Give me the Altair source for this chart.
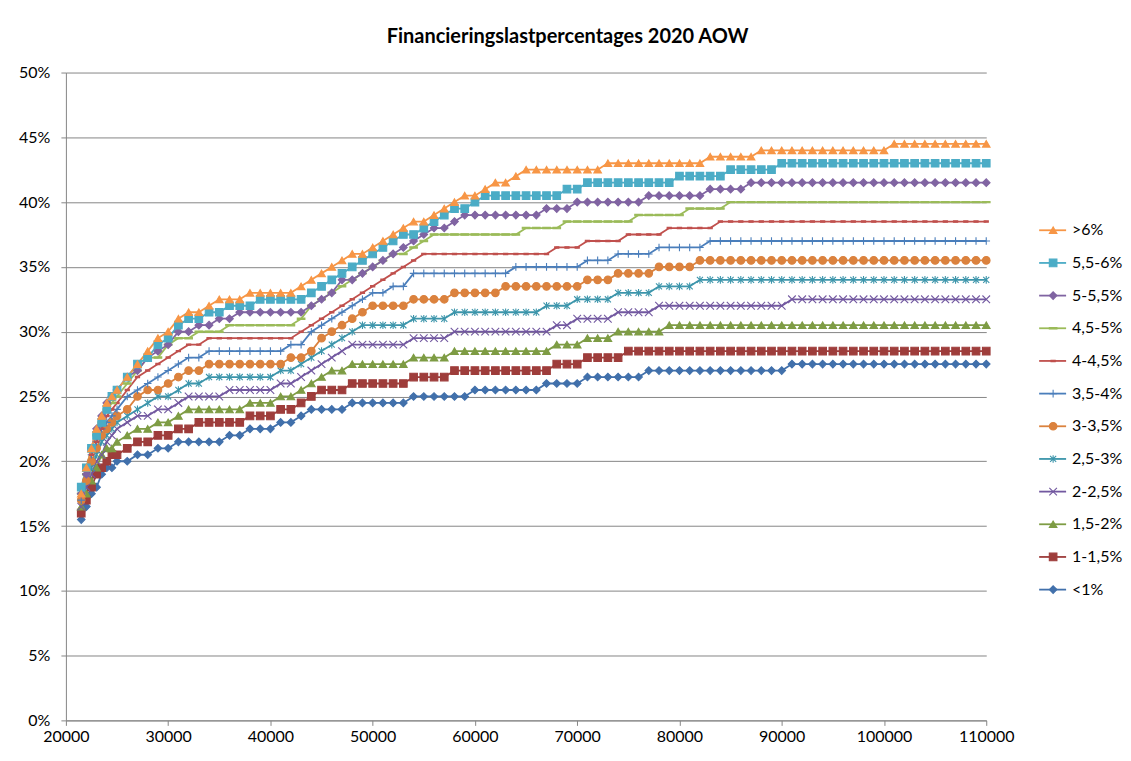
import altair as alt
import pandas as pd

# x positions (income)
incomes = [21500, 22000, 22500, 23000, 23500, 24000, 24500, 25000,
           26000, 27000, 28000, 29000, 30000, 31000, 32000, 33000, 34000, 35000,
           36000, 37000, 38000, 39000, 40000, 41000, 42000, 43000, 44000, 45000,
           46000, 47000, 48000, 49000, 50000, 51000, 52000, 53000, 54000, 55000,
           56000, 57000, 58000, 59000, 60000, 61000, 62000, 63000, 64000, 65000,
           66000, 67000, 68000, 69000, 70000, 71000, 72000, 73000, 74000, 75000,
           76000, 77000, 78000, 79000, 80000, 81000, 82000, 83000, 84000, 85000,
           86000, 87000, 88000, 89000, 90000, 91000, 92000, 93000, 94000, 95000,
           96000, 97000, 98000, 99000, 100000, 101000, 102000, 103000, 104000, 105000,
           106000, 107000, 108000, 109000, 110000]

s_lt1 = [15.5, 16.5, 17.5, 18, 19, 19.5, 19.5, 20,
         20, 20.5, 20.5, 21, 21, 21.5, 21.5, 21.5, 21.5, 21.5,
         22, 22, 22.5, 22.5, 22.5, 23, 23, 23.5, 24, 24,
         24, 24, 24.5, 24.5, 24.5, 24.5, 24.5, 24.5, 25, 25,
         25, 25, 25, 25, 25.5, 25.5, 25.5, 25.5, 25.5, 25.5,
         25.5, 26, 26, 26, 26, 26.5, 26.5, 26.5, 26.5, 26.5,
         26.5, 27, 27, 27, 27, 27, 27, 27, 27, 27,
         27, 27, 27, 27, 27, 27.5, 27.5, 27.5, 27.5, 27.5,
         27.5, 27.5, 27.5, 27.5, 27.5, 27.5, 27.5, 27.5, 27.5, 27.5,
         27.5, 27.5, 27.5, 27.5, 27.5]

s_1 = [16, 17, 18, 19, 19.5, 20, 20.5, 20.5,
       21, 21.5, 21.5, 22, 22, 22.5, 22.5, 23, 23, 23,
       23, 23, 23.5, 23.5, 23.5, 24, 24, 24.5, 25, 25.5,
       25.5, 25.5, 26, 26, 26, 26, 26, 26, 26.5, 26.5,
       26.5, 26.5, 27, 27, 27, 27, 27, 27, 27, 27,
       27, 27, 27.5, 27.5, 27.5, 28, 28, 28, 28, 28.5,
       28.5, 28.5, 28.5, 28.5, 28.5, 28.5, 28.5, 28.5, 28.5, 28.5,
       28.5, 28.5, 28.5, 28.5, 28.5, 28.5, 28.5, 28.5, 28.5, 28.5,
       28.5, 28.5, 28.5, 28.5, 28.5, 28.5, 28.5, 28.5, 28.5, 28.5,
       28.5, 28.5, 28.5, 28.5, 28.5]

s_15 = [16.5, 17.5, 18.5, 19.5, 20.5, 21, 21, 21.5,
        22, 22.5, 22.5, 23, 23, 23.5, 24, 24, 24, 24,
        24, 24, 24.5, 24.5, 24.5, 25, 25, 25.5, 26, 26.5,
        27, 27, 27.5, 27.5, 27.5, 27.5, 27.5, 27.5, 28, 28,
        28, 28, 28.5, 28.5, 28.5, 28.5, 28.5, 28.5, 28.5, 28.5,
        28.5, 28.5, 29, 29, 29, 29.5, 29.5, 29.5, 30, 30,
        30, 30, 30, 30.5, 30.5, 30.5, 30.5, 30.5, 30.5, 30.5,
        30.5, 30.5, 30.5, 30.5, 30.5, 30.5, 30.5, 30.5, 30.5, 30.5,
        30.5, 30.5, 30.5, 30.5, 30.5, 30.5, 30.5, 30.5, 30.5, 30.5,
        30.5, 30.5, 30.5, 30.5, 30.5]

s_2 = [16.5, 18, 19, 20, 20.5, 21.5, 22, 22.5,
       23, 23.5, 23.5, 24, 24, 24.5, 25, 25, 25, 25,
       25.5, 25.5, 25.5, 25.5, 25.5, 26, 26, 26.5, 27, 27.5,
       28, 28.5, 29, 29, 29, 29, 29, 29, 29.5, 29.5,
       29.5, 29.5, 30, 30, 30, 30, 30, 30, 30, 30,
       30, 30, 30.5, 30.5, 31, 31, 31, 31, 31.5, 31.5,
       31.5, 31.5, 32, 32, 32, 32, 32, 32, 32, 32,
       32, 32, 32, 32, 32, 32.5, 32.5, 32.5, 32.5, 32.5,
       32.5, 32.5, 32.5, 32.5, 32.5, 32.5, 32.5, 32.5, 32.5, 32.5,
       32.5, 32.5, 32.5, 32.5, 32.5]

s_25 = [17, 18.5, 19.5, 20.5, 21.5, 22, 22.5, 23,
        23.5, 24, 24.5, 25, 25, 25.5, 26, 26, 26.5, 26.5,
        26.5, 26.5, 26.5, 26.5, 26.5, 27, 27, 27.5, 28, 28.5,
        29, 29.5, 30, 30.5, 30.5, 30.5, 30.5, 30.5, 31, 31,
        31, 31, 31.5, 31.5, 31.5, 31.5, 31.5, 31.5, 31.5, 31.5,
        31.5, 32, 32, 32, 32.5, 32.5, 32.5, 32.5, 33, 33,
        33, 33, 33.5, 33.5, 33.5, 33.5, 34, 34, 34, 34,
        34, 34, 34, 34, 34, 34, 34, 34, 34, 34,
        34, 34, 34, 34, 34, 34, 34, 34, 34, 34,
        34, 34, 34, 34, 34]

s_3 = [17, 18.5, 20, 21, 22, 22.5, 23, 23.5,
       24, 25, 25.5, 25.5, 26, 26.5, 27, 27, 27.5, 27.5,
       27.5, 27.5, 27.5, 27.5, 27.5, 27.5, 28, 28, 28.5, 29.5,
       30, 30.5, 31, 31.5, 32, 32, 32, 32, 32.5, 32.5,
       32.5, 32.5, 33, 33, 33, 33, 33, 33.5, 33.5, 33.5,
       33.5, 33.5, 33.5, 33.5, 33.5, 34, 34, 34, 34.5, 34.5,
       34.5, 34.5, 35, 35, 35, 35, 35.5, 35.5, 35.5, 35.5,
       35.5, 35.5, 35.5, 35.5, 35.5, 35.5, 35.5, 35.5, 35.5, 35.5,
       35.5, 35.5, 35.5, 35.5, 35.5, 35.5, 35.5, 35.5, 35.5, 35.5,
       35.5, 35.5, 35.5, 35.5, 35.5]

s_35 = [17, 19, 20.5, 21.5, 22.5, 23, 23.5, 24,
        25, 25.5, 26, 26.5, 27, 27.5, 28, 28, 28.5, 28.5,
        28.5, 28.5, 28.5, 28.5, 28.5, 28.5, 29, 29, 30, 30.5,
        31, 31.5, 32, 32.5, 33, 33, 33.5, 33.5, 34.5, 34.5,
        34.5, 34.5, 34.5, 34.5, 34.5, 34.5, 34.5, 34.5, 35, 35,
        35, 35, 35, 35, 35, 35.5, 35.5, 35.5, 36, 36,
        36, 36, 36.5, 36.5, 36.5, 36.5, 36.5, 37, 37, 37,
        37, 37, 37, 37, 37, 37, 37, 37, 37, 37,
        37, 37, 37, 37, 37, 37, 37, 37, 37, 37,
        37, 37, 37, 37, 37]

s_4 = [17.5, 19, 20.5, 21.5, 22.5, 23.5, 24, 24.5,
       25.5, 26.5, 27, 27.5, 28, 28.5, 29, 29, 29.5, 29.5,
       29.5, 29.5, 29.5, 29.5, 29.5, 29.5, 29.5, 30, 30.5, 31,
       31.5, 32, 32.5, 33, 33.5, 34, 34.5, 35, 35.5, 36,
       36, 36, 36, 36, 36, 36, 36, 36, 36, 36,
       36, 36, 36.5, 36.5, 36.5, 37, 37, 37, 37, 37.5,
       37.5, 37.5, 37.5, 38, 38, 38, 38, 38, 38.5, 38.5,
       38.5, 38.5, 38.5, 38.5, 38.5, 38.5, 38.5, 38.5, 38.5, 38.5,
       38.5, 38.5, 38.5, 38.5, 38.5, 38.5, 38.5, 38.5, 38.5, 38.5,
       38.5, 38.5, 38.5, 38.5, 38.5]

s_45 = [17.5, 19, 21, 22, 23, 24, 24.5, 25,
        26, 27, 28, 28, 29, 29.5, 29.5, 30, 30, 30,
        30.5, 30.5, 30.5, 30.5, 30.5, 30.5, 30.5, 31, 32, 32.5,
        33, 33.5, 34, 34.5, 35, 35.5, 36, 36, 36.5, 37,
        37.5, 37.5, 37.5, 37.5, 37.5, 37.5, 37.5, 37.5, 37.5, 38,
        38, 38, 38, 38.5, 38.5, 38.5, 38.5, 38.5, 38.5, 38.5,
        39, 39, 39, 39, 39, 39.5, 39.5, 39.5, 39.5, 40,
        40, 40, 40, 40, 40, 40, 40, 40, 40, 40,
        40, 40, 40, 40, 40, 40, 40, 40, 40, 40,
        40, 40, 40, 40, 40]

s_5 = [17.5, 19, 21, 22.5, 23.5, 24.5, 25, 25.5,
       26.5, 27, 28, 28.5, 29, 30, 30, 30.5, 30.5, 31,
       31, 31.5, 31.5, 31.5, 31.5, 31.5, 31.5, 31.5, 32, 32.5,
       33, 34, 34, 34.5, 35, 35.5, 36, 36.5, 37, 37.5,
       38, 38, 38.5, 39, 39, 39, 39, 39, 39, 39,
       39, 39.5, 39.5, 39.5, 40, 40, 40, 40, 40, 40,
       40, 40.5, 40.5, 40.5, 40.5, 40.5, 40.5, 41, 41, 41,
       41, 41.5, 41.5, 41.5, 41.5, 41.5, 41.5, 41.5, 41.5, 41.5,
       41.5, 41.5, 41.5, 41.5, 41.5, 41.5, 41.5, 41.5, 41.5, 41.5,
       41.5, 41.5, 41.5, 41.5, 41.5]

s_55 = [18, 19.5, 21, 22, 23, 24, 25, 25.5,
        26.5, 27.5, 28, 29, 29.5, 30.5, 31, 31, 31.5, 31.5,
        32, 32, 32, 32.5, 32.5, 32.5, 32.5, 32.5, 33, 33.5,
        34, 34.5, 35, 35.5, 36, 36.5, 37, 37.5, 37.5, 38,
        38.5, 39, 39.5, 39.5, 40, 40.5, 40.5, 40.5, 40.5, 40.5,
        40.5, 40.5, 40.5, 41, 41, 41.5, 41.5, 41.5, 41.5, 41.5,
        41.5, 41.5, 41.5, 41.5, 42, 42, 42, 42, 42, 42.5,
        42.5, 42.5, 42.5, 42.5, 43, 43, 43, 43, 43, 43,
        43, 43, 43, 43, 43, 43, 43, 43, 43, 43,
        43, 43, 43, 43, 43]

s_6 = [17.5, 19.5, 21, 22.5, 23.5, 24.5, 25, 25.5,
       26.5, 27.5, 28.5, 29.5, 30, 31, 31.5, 31.5, 32, 32.5,
       32.5, 32.5, 33, 33, 33, 33, 33, 33.5, 34, 34.5,
       35, 35.5, 36, 36, 36.5, 37, 37.5, 38, 38.5, 38.5,
       39, 39.5, 40, 40.5, 40.5, 41, 41.5, 41.5, 42, 42.5,
       42.5, 42.5, 42.5, 42.5, 42.5, 42.5, 42.5, 43, 43, 43,
       43, 43, 43, 43, 43, 43, 43, 43.5, 43.5, 43.5,
       43.5, 43.5, 44, 44, 44, 44, 44, 44, 44, 44,
       44, 44, 44, 44, 44, 44.5, 44.5, 44.5, 44.5, 44.5,
       44.5, 44.5, 44.5, 44.5, 44.5]

# legend order (top to bottom)
names = [">6%", "5,5-6%", "5-5,5%", "4,5-5%", "4-4,5%", "3,5-4%",
         "3-3,5%", "2,5-3%", "2-2,5%", "1,5-2%", "1-1,5%", "<1%"]
series_values = [s_6, s_55, s_5, s_45, s_4, s_35, s_3, s_25, s_2, s_15, s_1, s_lt1]
colors = ["#F79646", "#4BACC6", "#8064A2", "#9BBB59", "#C0504D", "#4A7EBB",
          "#DB823E", "#3C95AB", "#7258A0", "#7E9C44", "#9E3D3B", "#4170AB"]
shapes = ["triangle-up", "square", "diamond",
          "M-1,-0.18L1,-0.18L1,0.18L-1,0.18Z",
          "M-0.55,-0.18L0.55,-0.18L0.55,0.18L-0.55,0.18Z",
          "M0,-1L0,1M-1,0L1,0",
          "circle",
          "M-0.8,-0.8L0.8,0.8M-0.8,0.8L0.8,-0.8M0,-1L0,1",
          "M-1,-1L1,1M-1,1L1,-1",
          "triangle-up", "square", "diamond"]

x_ticks = [20000, 30000, 40000, 50000, 60000, 70000, 80000, 90000, 100000, 110000]
y_ticks = [0, 5, 10, 15, 20, 25, 30, 35, 40, 45, 50]

rows = []
for name, vals in reversed(list(zip(names, series_values))):
    for xv, yv in zip(incomes, vals):
        rows.append({"series": name, "income": xv, "pct": yv})
df = pd.DataFrame(rows)

FONT = "Lato"
col_scale = alt.Scale(domain=names, range=colors)
shape_scale = alt.Scale(domain=names, range=shapes)

X = alt.X("income:Q",
          scale=alt.Scale(domain=[20000, 110000], nice=False, zero=False),
          axis=alt.Axis(values=x_ticks, format="d", title=None, grid=False,
                        labelPadding=3, labelFlush=False))
Y = alt.Y("pct:Q",
          scale=alt.Scale(domain=[0, 50], nice=False),
          axis=alt.Axis(values=y_ticks, labelExpr="datum.value + '%'", title=None,
                        grid=True, labelPadding=11, minExtent=53, maxExtent=53))

base = alt.Chart(df)
lines = base.mark_line(strokeWidth=1.8).encode(
    x=X, y=Y,
    stroke=alt.Stroke("series:N", scale=col_scale, legend=None),
    detail="series:N")
points = base.mark_point(opacity=1, strokeWidth=1.1, size=58).encode(
    x=X, y=Y,
    fill=alt.Fill("series:N", scale=col_scale, legend=None),
    stroke=alt.Stroke("series:N", scale=col_scale, legend=None),
    shape=alt.Shape("series:N", scale=shape_scale, legend=None))
main = alt.layer(lines, points).properties(width=922, height=649)

leg_df = pd.DataFrame({"series": names})
LY = alt.Y("series:N", scale=alt.Scale(type="point", domain=names, range=[158, 518], padding=0),
           axis=None)
leg_base = alt.Chart(leg_df)
leg_rule = leg_base.mark_rule(strokeWidth=1.8).encode(
    x=alt.value(25), x2=alt.value(52), y=LY,
    stroke=alt.Stroke("series:N", scale=col_scale, legend=None))
leg_pts = leg_base.mark_point(opacity=1, strokeWidth=1.1, size=58).encode(
    x=alt.value(39), y=LY,
    fill=alt.Fill("series:N", scale=col_scale, legend=None),
    stroke=alt.Stroke("series:N", scale=col_scale, legend=None),
    shape=alt.Shape("series:N", scale=shape_scale, legend=None))
leg_txt = leg_base.mark_text(align="left", baseline="middle", font=FONT, fontSize=16,
                             color="#000000").encode(
    x=alt.value(58), y=LY, text="series:N")
legend = alt.layer(leg_rule, leg_pts, leg_txt).properties(width=95, height=649)

chart = alt.hconcat(main, legend, spacing=0).properties(
    title=alt.TitleParams("Financieringslastpercentages 2020 AOW", font=FONT, fontSize=20,
                          fontWeight="bold", color="#000000", anchor="middle", offset=18),
    padding={"left": 5, "top": 18, "right": 0, "bottom": 0},
).configure_view(stroke=None).configure_axis(
    labelFont=FONT, labelFontSize=16, labelColor="#000000",
    domainColor="#868686", tickColor="#868686", gridColor="#868686",
    tickSize=5, domainWidth=1, gridWidth=1
)

chart.save("out.html", embed_options={"renderer": "svg", "actions": False})
